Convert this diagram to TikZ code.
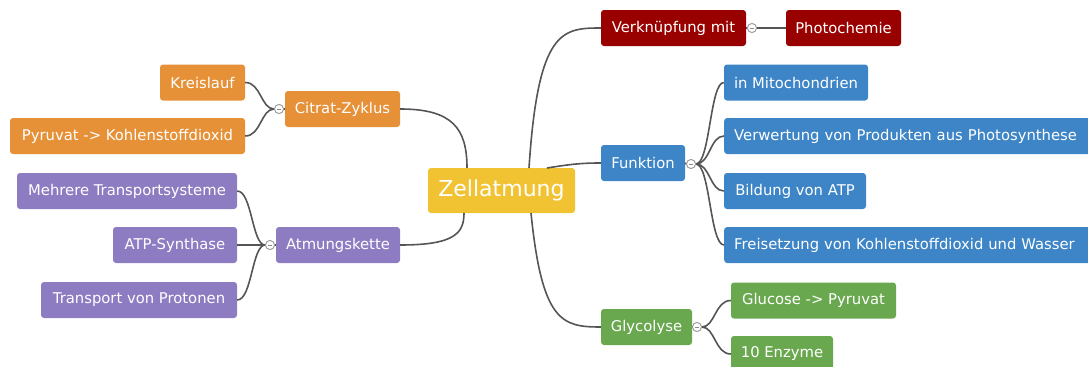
\documentclass[tikz,border=0pt]{standalone}
\usepackage{fontspec}
\setmainfont{DejaVu Sans}
\definecolor{cyel}{HTML}{F1C232}
\definecolor{cred}{HTML}{990000}
\definecolor{cblue}{HTML}{3D85C6}
\definecolor{cgreen}{HTML}{6AA84F}
\definecolor{corange}{HTML}{E69138}
\definecolor{cpurple}{HTML}{8E7CC3}
\definecolor{cline}{HTML}{555555}
\tikzset{
  box/.style={rounded corners=3pt, inner ysep=0pt, inner xsep=0pt, minimum height=36pt, text=white,
    font=\fontsize{14.8}{16}\selectfont},
  conn/.style={draw=cline, line width=1.6pt},
  knob/.style={circle, draw=gray!80, fill=white, line width=0.8pt, minimum size=9pt, inner sep=0pt},
}
\newcommand{\knobminus}[1]{\draw[gray!90, line width=0.8pt] ([xshift=-2.3pt]#1.center) -- ([xshift=2.3pt]#1.center);}
\begin{document}
\begin{tikzpicture}[x=1pt,y=-1pt]
\useasboundingbox (0,0) rectangle (1088,367);
% nodes
\node[box, fill=cyel, minimum width=147pt, minimum height=45pt, font=\fontsize{22}{24}\selectfont] (zell) at (501.5,190.5) {Zellatmung};
\node[box, fill=cred, minimum width=145pt] (verk) at (673.5,28) {Verknüpfung mit};
\node[box, fill=cred, minimum width=115pt] (photo) at (843.5,28) {Photochemie};
\node[box, fill=cblue, minimum width=84pt] (funk) at (643,163) {Funktion};
\node[box, fill=cblue, minimum width=144pt] (mito) at (796,82.5) {in Mitochondrien};
\node[box, fill=cblue, anchor=west, inner xsep=10pt, text width=350pt, align=left] (verw) at (724,136) {Verwertung von Produkten aus Photosynthese};
\node[box, fill=cblue, minimum width=142pt] (bild) at (795,191) {Bildung von ATP};
\node[box, fill=cblue, anchor=west, inner xsep=10pt, text width=350pt, align=left] (frei) at (724,245) {Freisetzung von Kohlenstoffdioxid und Wasser};
\node[box, fill=cgreen, minimum width=91pt] (glyc) at (646.5,327) {Glycolyse};
\node[box, fill=cgreen, minimum width=165pt] (gluc) at (813.5,300.5) {Glucose -> Pyruvat};
\node[box, fill=cgreen, minimum width=102pt] (enz) at (782,354) {10 Enzyme};
\node[box, fill=corange, minimum width=115pt] (citr) at (342.5,109) {Citrat-Zyklus};
\node[box, fill=corange, minimum width=85pt] (kreis) at (202.5,82.5) {Kreislauf};
\node[box, fill=corange, minimum width=235pt] (pyr) at (127.5,136) {Pyruvat -> Kohlenstoffdioxid};
\node[box, fill=cpurple, minimum width=124pt] (atm) at (338,245) {Atmungskette};
\node[box, fill=cpurple, minimum width=220pt] (mehr) at (127,191) {Mehrere Transportsysteme};
\node[box, fill=cpurple, minimum width=124pt] (atp) at (175,245) {ATP-Synthase};
\node[box, fill=cpurple, minimum width=196pt] (trans) at (139,300) {Transport von Protonen};
% knobs
\node[knob] (kverk) at (752,28) {};
\node[knob] (kfunk) at (691,164) {};
\node[knob] (kglyc) at (697,327) {};
\node[knob] (kcitr) at (279,109) {};
\node[knob] (katm) at (270,245) {};
% anchor coordinates on the central node
\coordinate (zt1) at (467,168);
\coordinate (zt2) at (529,168);
\coordinate (zt3) at (547,168);
\coordinate (zb1) at (464,213);
\coordinate (zb2) at (531,213);
% main connectors
\draw[conn] (citr.east) .. controls (452,109) and (467,128) .. (zt1);
\draw[conn] (atm.east) .. controls (455,245) and (464,233) .. (zb1);
\draw[conn] (zt2) .. controls (538,30) and (562,28) .. (verk.west);
\draw[conn] (zt3) .. controls (572,164) and (582,163) .. (funk.west);
\draw[conn] (zb2) .. controls (542,322) and (562,327) .. (glyc.west);
% knob links to parents
\draw[conn] (verk.east) -- (kverk.west);
\draw[conn] (kverk.east) -- (photo.west);
\draw[conn] (funk.east) -- (kfunk.west);
\draw[conn] (glyc.east) -- (kglyc.west);
\draw[conn] (citr.west) -- (kcitr.east);
\draw[conn] (atm.west) -- (katm.east);
% forks right
\foreach \c in {mito,verw,bild,frei}
  \draw[conn] (kfunk.east) .. controls (710,164) and (710,0|-\c.west) .. (\c.west);
\foreach \c in {gluc,enz}
  \draw[conn] (kglyc.east) .. controls (715,327) and (715,0|-\c.west) .. (\c.west);
% forks left
\foreach \c in {kreis,pyr}
  \draw[conn] (kcitr.west) .. controls (261,109) and (261,0|-\c.east) .. (\c.east);
\foreach \c in {mehr,atp,trans}
  \draw[conn] (katm.west) .. controls (252,245) and (252,0|-\c.east) .. (\c.east);
% knobs on top
\foreach \k in {kverk,kfunk,kglyc,kcitr,katm}{
  \node[knob] at (\k) {};
  \knobminus{\k}
}
\end{tikzpicture}
\end{document}
